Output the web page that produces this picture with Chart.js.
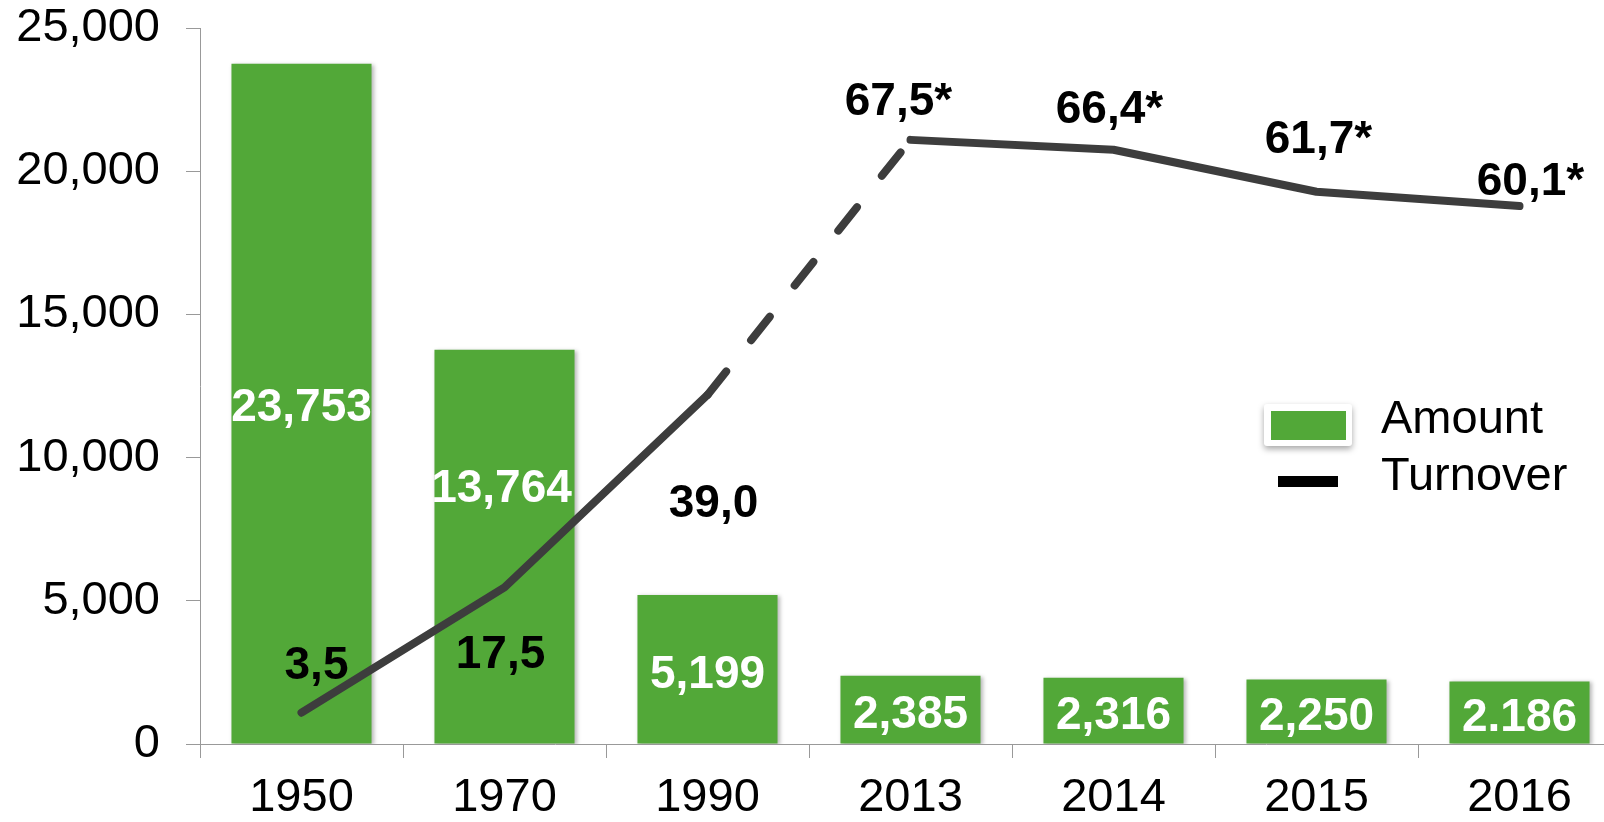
<!DOCTYPE html>
<html>
<head>
<meta charset="utf-8">
<script src="https://cdn.jsdelivr.net/npm/chart.js@4.4.1/dist/chart.umd.min.js"></script>
<style>
  html, body { margin: 0; padding: 0; background: #fff; overflow: hidden; }
  #wrap { width: 1625px; height: 822px; position: relative; }
</style>
</head>
<body>
<div id="wrap"><canvas id="chart"></canvas></div>
<script>
// data
const years = ['1950', '1970', '1990', '2013', '2014', '2015', '2016'];
const amount = [23753, 13764, 5199, 2385, 2316, 2250, 2186];
const turnover = [3.5, 17.5, 39.0, 67.5, 66.4, 61.7, 60.1];
const amountLabels = ['23,753', '13,764', '5,199', '2,385', '2,316', '2,250', '2.186'];
const turnoverLabels = ['3,5', '17,5', '39,0', '67,5*', '66,4*', '61,7*', '60,1*'];

// label nudges in px, relative to bar middle / line point
const amountShift = [[0, 5], [-3, -57], [0, 6], [0, 6], [0, 6], [0, 6], [0, 6]];
const turnoverShift = [[15, -46], [-4, 68], [6, 109], [-12, -38], [-4, -39], [2, -51], [11, -24]];

const FONT = "'Liberation Sans', Arial, sans-serif";
const GREEN = '#52a838';
const LINE = '#3d3d3d';

// soft shadow under the bars
const barShadow = {
  id: 'barShadow',
  beforeDatasetDraw(chart, args) {
    if (args.index !== 0) return;
    const ctx = chart.ctx;
    ctx.save();
    ctx.shadowColor = 'rgba(0,0,0,0.28)';
    ctx.shadowBlur = 4;
    ctx.shadowOffsetX = 2;
    ctx.shadowOffsetY = 1;
  },
  afterDatasetDraw(chart, args) {
    if (args.index === 0) chart.ctx.restore();
  }
};

// value labels for both series
const valueLabels = {
  id: 'valueLabels',
  afterDatasetsDraw(chart) {
    const ctx = chart.ctx;
    ctx.save();
    ctx.textAlign = 'center';
    ctx.textBaseline = 'middle';
    ctx.font = 'bold 46px ' + FONT;

    const bars = chart.getDatasetMeta(0).data;
    ctx.fillStyle = '#fff';
    bars.forEach((bar, i) => {
      const mid = (bar.y + bar.base) / 2;
      ctx.fillText(amountLabels[i], bar.x + amountShift[i][0], mid + amountShift[i][1]);
    });

    const pts = chart.getDatasetMeta(1).data;
    ctx.fillStyle = '#000';
    pts.forEach((p, i) => {
      ctx.fillText(turnoverLabels[i], p.x + turnoverShift[i][0], p.y + turnoverShift[i][1]);
    });
    ctx.restore();
  }
};

// legend box on the right, drawn by hand
const sideLegend = {
  id: 'sideLegend',
  afterDraw(chart) {
    const ctx = chart.ctx;
    ctx.save();
    ctx.shadowColor = 'rgba(0,0,0,0.35)';
    ctx.shadowBlur = 6;
    ctx.shadowOffsetY = 3;
    ctx.fillStyle = '#fff';
    ctx.beginPath();
    ctx.roundRect(1264, 404, 88, 42, 3);
    ctx.fill();
    ctx.restore();

    ctx.save();
    ctx.fillStyle = GREEN;
    ctx.fillRect(1271, 411, 75, 29);
    ctx.fillStyle = '#000';
    ctx.fillRect(1278, 476, 60, 11);
    ctx.font = '47px ' + FONT;
    ctx.textAlign = 'left';
    ctx.textBaseline = 'alphabetic';
    ctx.fillText('Amount', 1381, 433);
    ctx.fillText('Turnover', 1381, 490);
    ctx.restore();
  }
};

new Chart(document.getElementById('chart'), {
  data: {
    labels: years,
    datasets: [
      {
        type: 'bar',
        label: 'Amount',
        data: amount,
        backgroundColor: GREEN,
        barPercentage: 0.69,
        categoryPercentage: 1,
        yAxisID: 'y',
        order: 1
      },
      {
        type: 'line',
        label: 'Turnover',
        data: turnover,
        borderColor: LINE,
        borderWidth: 8,
        borderCapStyle: 'round',
        borderJoinStyle: 'round',
        pointRadius: 0,
        tension: 0,
        yAxisID: 'y1',
        order: 0,
        segment: {
          borderDash: c => c.p0DataIndex === 2 ? [30, 40] : undefined
        }
      }
    ]
  },
  options: {
    responsive: true,
    maintainAspectRatio: false,
    animation: false,
    layout: { padding: { top: 28, right: 4, left: 0, bottom: 0 } },
    plugins: {
      legend: { display: false },
      tooltip: { enabled: false }
    },
    scales: {
      x: {
        grid: { offset: true, drawOnChartArea: false, tickLength: 14, color: '#999' },
        border: { color: '#999', width: 1 },
        ticks: { color: '#000', font: { family: FONT, size: 47 }, padding: 12 },
        afterFit: s => { s.height = 78; s.paddingLeft = 0; s.paddingRight = 0; }
      },
      y: {
        position: 'left',
        min: 0,
        max: 25000,
        grid: { drawOnChartArea: false, tickLength: 14, color: '#999' },
        border: { color: '#999', width: 1 },
        ticks: {
          stepSize: 5000,
          color: '#000',
          font: { family: FONT, size: 47 },
          padding: 26,
          callback: v => v.toLocaleString('en-US')
        },
        afterFit: s => { s.width = 200; s.paddingTop = 0; s.paddingBottom = 0; }
      },
      y1: {
        display: false,
        min: 0,
        max: 80
      }
    }
  },
  plugins: [barShadow, valueLabels, sideLegend]
});
</script>
</body>
</html>
